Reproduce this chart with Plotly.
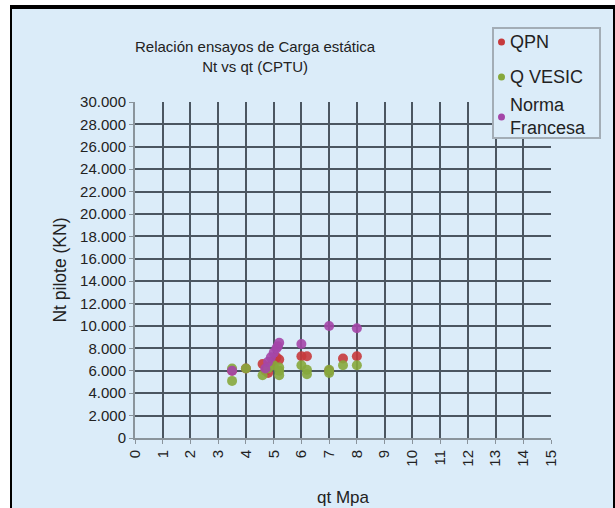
import plotly.graph_objects as go

# Datos (qt en MPa, Nt en kN)
qpn_qt = [3.5, 4.0, 4.6, 4.7, 4.8, 4.9, 5.0, 5.1, 5.2, 6.0, 6.2, 7.0, 7.5, 8.0]
qpn_nt = [6000, 6200, 6600, 6000, 5800, 6500, 6900, 7200, 7000, 7300, 7300, 6000, 7100, 7300]

vesic_qt = [3.5, 3.5, 4.0, 4.6, 4.8, 5.0, 5.2, 5.2, 5.2, 6.0, 6.2, 6.2, 7.0, 7.0, 7.5, 8.0]
vesic_nt = [5100, 6200, 6200, 5600, 6200, 6500, 5600, 6000, 6300, 6500, 5700, 6100, 5800, 6100, 6500, 6500]

fr_qt = [3.5, 4.7, 4.8, 4.9, 5.0, 5.1, 5.15, 5.2, 6.0, 7.0, 8.0]
fr_nt = [6000, 6200, 6800, 7200, 7600, 8000, 8200, 8500, 8400, 10000, 9800]

x_ticks = list(range(0, 16))
y_ticks = list(range(0, 30001, 2000))

BG = "#dbecf9"
GRID = "#4b5661"
FONT = "Liberation Sans, Arial, sans-serif"

# área del gráfico en píxeles
L, R, T, B = 135, 551, 102, 438
W, H = R - L, B - T


def px(x):
    return (x - L) / W


def py(y):
    return (B - y) / H


fig = go.Figure()

series = [
    ("QPN", qpn_qt, qpn_nt, "#c63a3c"),
    ("Q VESIC", vesic_qt, vesic_nt, "#86a83c"),
    ("Norma Francesa", fr_qt, fr_nt, "#a446a8"),
]
for name, xs, ys, col in series:
    fig.add_trace(go.Scatter(
        x=xs, y=ys, mode="markers", name=name, showlegend=False,
        marker=dict(symbol="circle", size=10, color=col, opacity=0.9,
                    line=dict(width=0)),
    ))

# Título (dos líneas)
fig.add_annotation(
    x=px(255), y=py(56), xref="paper", yref="paper", xanchor="center", yanchor="middle",
    text="Relación ensayos de Carga estática<br>Nt vs qt (CPTU)",
    showarrow=False, font=dict(size=15, color="#222"), align="center",
)

# Leyenda dibujada a mano
fig.add_shape(type="rect", xref="paper", yref="paper",
              x0=px(493), x1=px(600), y0=py(138), y1=py(28),
              fillcolor=BG, line=dict(color="#a3adb6", width=2))
legend_items = [("QPN", "#c63a3c", 42), ("Q VESIC", "#86a83c", 77),
                ("Norma<br>Francesa", "#a446a8", 117)]
for text, col, yc in legend_items:
    fig.add_shape(type="circle", xref="paper", yref="paper",
                  x0=px(498), x1=px(505), y0=py(yc + 3.5), y1=py(yc - 3.5),
                  fillcolor=col, line=dict(width=0))
    fig.add_annotation(x=px(508), y=py(yc), xref="paper", yref="paper",
                       xanchor="left", yanchor="middle", text=text, showarrow=False,
                       align="left", font=dict(size=18, color="#222"))

# Marco de la imagen: blanco fuera, líneas negras arriba, izquierda y derecha
fig.add_shape(type="rect", xref="paper", yref="paper",
              x0=px(0), x1=px(10), y0=py(508), y1=py(0),
              fillcolor="white", line=dict(width=0))
fig.add_shape(type="rect", xref="paper", yref="paper",
              x0=px(0), x1=px(615), y0=py(5), y1=py(0),
              fillcolor="white", line=dict(width=0))
fig.add_shape(type="line", xref="paper", yref="paper",
              x0=px(11), x1=px(11), y0=py(508), y1=py(5),
              line=dict(color="black", width=2))
fig.add_shape(type="line", xref="paper", yref="paper",
              x0=px(10), x1=px(615), y0=py(7), y1=py(7),
              line=dict(color="black", width=4))
fig.add_shape(type="line", xref="paper", yref="paper",
              x0=px(614), x1=px(614), y0=py(508), y1=py(5),
              line=dict(color="black", width=2))

fig.update_layout(
    width=615, height=508,
    margin=dict(l=L, r=615 - R, t=T, b=508 - B),
    paper_bgcolor=BG, plot_bgcolor=BG,
    font=dict(family=FONT, size=15, color="#222"),
    separators=",.",
    showlegend=False,
    xaxis=dict(
        range=[0, 15], tickvals=x_ticks, ticktext=[str(v) for v in x_ticks],
        tickangle=-90, tickfont=dict(size=15),
        showgrid=True, gridcolor=GRID, gridwidth=1.6,
        zeroline=False, showline=True, linecolor="#8a949c", linewidth=2,
        ticks="outside", ticklen=4, tickcolor="#8a949c",
        title=dict(text="qt Mpa", font=dict(size=17), standoff=25),
        automargin=False,
    ),
    yaxis=dict(
        range=[0, 30000], tickvals=y_ticks, tickformat=",d", tickfont=dict(size=15),
        showgrid=True, gridcolor=GRID, gridwidth=1.6,
        zeroline=False, showline=True, linecolor="#8a949c", linewidth=2,
        ticks="outside", ticklen=4, tickcolor="#8a949c",
        title=dict(text="Nt pilote (KN)", font=dict(size=17.5), standoff=9),
        automargin=False,
    ),
)

fig.write_html("out.html", config={"displayModeBar": False},
               post_script="document.body.style.margin='0';")
